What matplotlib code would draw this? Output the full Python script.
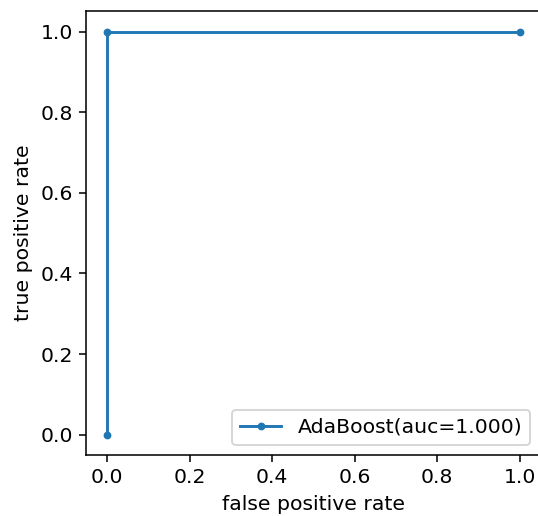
import matplotlib
matplotlib.use("Agg")
import matplotlib.pyplot as plt

fpr = [0.0, 0.0, 1.0]
tpr = [0.0, 1.0, 1.0]
label = "AdaBoost(auc=1.000)"

plt.rcParams['font.size'] = 10.5

dpi = 140
W, H = 538, 516
left_px, right_px = 86.4, 540.2
top_px, bottom_px = 11.4, 454.8
fig = plt.figure(figsize=(W / dpi, H / dpi), dpi=dpi)
ax = fig.add_axes([left_px / W, (H - bottom_px) / H,
                   (right_px - left_px) / W, (bottom_px - top_px) / H])
ax.plot(fpr, tpr, marker='.', color='#1f77b4', label=label)
ax.set_xlabel("false positive rate")
ax.set_ylabel("true positive rate")
ax.legend(loc='lower right', borderaxespad=0.48)
fig.savefig("out.png", dpi=dpi)
